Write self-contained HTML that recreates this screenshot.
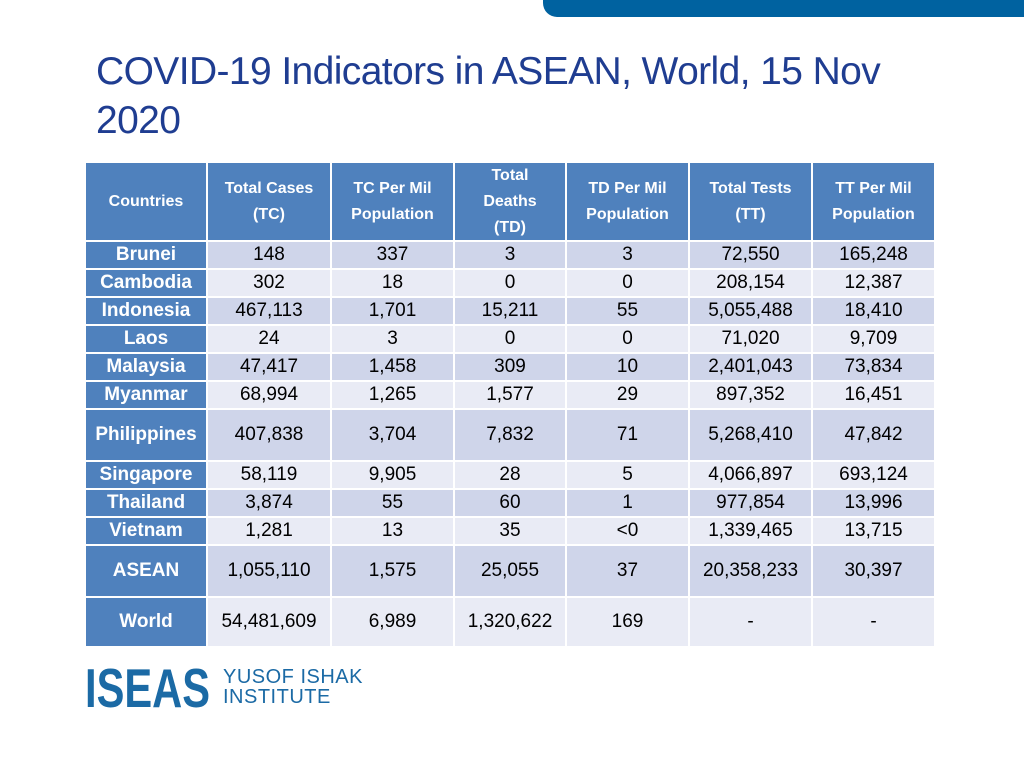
<!DOCTYPE html>
<html><head><meta charset="utf-8"><style>
body{margin:0;width:1024px;height:768px;background:#fff;position:relative;overflow:hidden;font-family:"Liberation Sans",sans-serif}
#banner{position:absolute;left:543px;top:0;width:500px;height:17px;background:#0062a0;border-bottom-left-radius:14px}
#title{position:absolute;left:96px;top:47px;font-size:39px;line-height:49px;color:#1f3d91;letter-spacing:-0.6px;width:840px}
.c{position:absolute;display:flex;align-items:center;justify-content:center;text-align:center;box-sizing:border-box}
.h{background:#4f81bd;color:#fff;font-weight:bold;font-size:16px;line-height:26px}
.fc{background:#4f81bd;color:#fff;font-weight:bold;font-size:19px}
.d{font-size:19px;color:#000}
.dk{background:#cfd5ea}.lt{background:#e9ebf5}
#logo{position:absolute;left:85px;top:664px}
#inst{position:absolute;left:223px;top:667px;font-size:20px;line-height:20px;color:#1b6aa5;letter-spacing:0.5px}
</style></head><body>
<div id="banner"></div>
<div id="title">COVID-19 Indicators in ASEAN, World, 15 Nov 2020</div>
<div id="tbl"></div>
<svg id="logo" width="128" height="46"><text x="0" y="43" font-family="Liberation Sans" font-weight="bold" font-size="55" fill="#1b6aa5" textLength="125" lengthAdjust="spacingAndGlyphs">ISEAS</text></svg>
<div id="inst">YUSOF ISHAK<br>INSTITUTE</div>
<script>
const headers=["Countries","Total Cases<br>(TC)","TC Per Mil<br>Population","Total<br>Deaths<br>(TD)","TD Per Mil<br>Population","Total Tests<br>(TT)","TT Per Mil<br>Population"];
const countries=["Brunei","Cambodia","Indonesia","Laos","Malaysia","Myanmar","Philippines","Singapore","Thailand","Vietnam","ASEAN","World"];
const totalCases=["148","302","467,113","24","47,417","68,994","407,838","58,119","3,874","1,281","1,055,110","54,481,609"];
const tcPerMil=["337","18","1,701","3","1,458","1,265","3,704","9,905","55","13","1,575","6,989"];
const totalDeaths=["3","0","15,211","0","309","1,577","7,832","28","60","35","25,055","1,320,622"];
const tdPerMil=["3","0","55","0","10","29","71","5","1","<0","37","169"];
const totalTests=["72,550","208,154","5,055,488","71,020","2,401,043","897,352","5,268,410","4,066,897","977,854","1,339,465","20,358,233","-"];
const ttPerMil=["165,248","12,387","18,410","9,709","73,834","16,451","47,842","693,124","13,996","13,715","30,397","-"];
const cols=[86,208,332,455,567,690,813,936];
const rowH=[26,26,26,26,26,26,50,26,26,26,50,48];
const tbl=document.getElementById('tbl');
function cell(x,y,w,h,cls,html,name){const e=document.createElement('div');e.className='c '+cls;e.style.left=x+'px';e.style.top=y+'px';e.style.width=w+'px';e.style.height=h+'px';e.innerHTML=html;


tbl.appendChild(e);}
for(let j=0;j<7;j++)cell(cols[j],163,cols[j+1]-cols[j]-2,77,'h',headers[j],'header-cell');
let y=242;
const series=[totalCases,tcPerMil,totalDeaths,tdPerMil,totalTests,ttPerMil];
for(let i=0;i<countries.length;i++){
 const bg=i%2===0?'dk':'lt';
 cell(cols[0],y,cols[1]-cols[0]-2,rowH[i],'fc',countries[i],'country-label');
 for(let j=0;j<6;j++){const t=series[j][i].replace('<','&lt;');cell(cols[j+1],y,cols[j+2]-cols[j+1]-2,rowH[i],'d '+bg,t,'value-cell');}
 y+=rowH[i]+2;
}
</script>
</body></html>
